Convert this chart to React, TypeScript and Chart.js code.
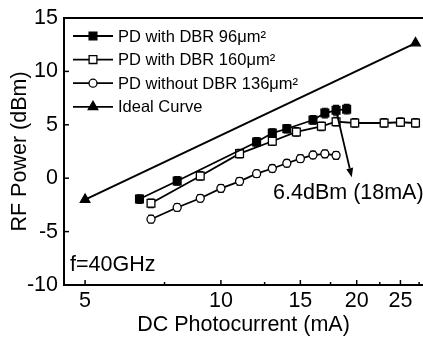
import React, { useEffect, useRef } from "react";
import { Chart, registerables } from "chart.js";

Chart.register(...registerables);

const FONT = "'Liberation Sans', Arial, Helvetica, sans-serif";

// ---- data ----
const dbr96Current = [6.6, 8, 12, 13, 14, 16, 17, 18, 19];
const dbr96Power = [-1.95, -0.26, 3.39, 4.23, 4.63, 5.45, 6.1, 6.36, 6.46];
const dbr96Err = [0.4, 0.4, 0.4, 0.4, 0.4, 0.4, 0.45, 0.45, 0.45];

const dbr160Current = [7, 9, 11, 13, 14.7, 16.7, 18, 19.8, 23, 25, 27];
const dbr160Power = [-2.35, 0.21, 2.3, 3.46, 4.33, 4.86, 5.29, 5.17, 5.17, 5.24, 5.17];
const dbr160Err = [0.4, 0.4, 0.4, 0.4, 0.4, 0.4, 0.4, 0.4, 0.4, 0.4, 0.4];

const noDbrCurrent = [7, 8, 9, 10, 11, 12, 13, 14, 15, 16, 17, 18];
const noDbrPower = [-3.84, -2.74, -1.88, -0.95, -0.29, 0.42, 0.91, 1.4, 1.83, 2.17, 2.28, 2.14];
const noDbrErr = [0.35, 0.35, 0.35, 0.35, 0.35, 0.35, 0.35, 0.35, 0.35, 0.35, 0.35, 0.35];

const idealCurrent = [5, 27];
const idealPower = [-2, 12.65];

const seriesLabels = [
  "PD with DBR 96\u03bcm\u00b2",
  "PD with DBR 160\u03bcm\u00b2",
  "PD without DBR 136\u03bcm\u00b2",
  "Ideal Curve",
];

const xTickValues = [5, 7.5, 10, 12.5, 15, 17.5, 20, 22.5, 25, 27.5];
const xTickLabels = ["5", "", "10", "", "15", "", "20", "", "25", ""];
const yTickValues = [-10, -5, 0, 5, 10, 15];

const xMin = 4.49;
const xMax = 28.05;
const yMin = -10;
const yMax = 15;

// annotation (data units)
const annotationFrom = { x: 18, y: 6.36 };
const annotationTip = { x: 19.5, y: 0.1 };
const annotationText = "6.4dBm (18mA)";
const annotationTextPos = { x: 13.05, y: -1.4 };
const freqText = "f=40GHz";
const freqTextY = -8.1;

const toPoints = (xs: number[], ys: number[]) => xs.map((x, i) => ({ x, y: ys[i] }));

function drawMarker(ctx: CanvasRenderingContext2D, style: string, x: number, y: number, r: number, fill: string) {
  ctx.save();
  ctx.fillStyle = fill;
  ctx.strokeStyle = "#000";
  ctx.lineWidth = 1.3;
  ctx.beginPath();
  if (style === "rect") {
    const s = r * Math.SQRT1_2;
    ctx.rect(x - s, y - s, 2 * s, 2 * s);
  } else if (style === "circle") {
    ctx.arc(x, y, r, 0, Math.PI * 2);
  } else if (style === "triangle") {
    ctx.moveTo(x, y - r);
    ctx.lineTo(x + r * 0.866, y + r * 0.5);
    ctx.lineTo(x - r * 0.866, y + r * 0.5);
    ctx.closePath();
  }
  ctx.fill();
  ctx.stroke();
  ctx.restore();
}

const decorPlugin = {
  id: "decor",
  beforeDatasetsDraw(chart: any) {
    const ctx = chart.ctx;
    const xs = chart.scales.x;
    const ys = chart.scales.y;
    ctx.save();
    ctx.strokeStyle = "#000";
    ctx.lineWidth = 1.2;
    chart.data.datasets.forEach((ds: any) => {
      if (!ds.errors) return;
      ds.data.forEach((p: any, i: number) => {
        const e = ds.errors[i];
        const px = xs.getPixelForValue(p.x);
        const t = ys.getPixelForValue(p.y + e);
        const b = ys.getPixelForValue(p.y - e);
        ctx.beginPath();
        ctx.moveTo(px, t);
        ctx.lineTo(px, b);
        ctx.moveTo(px - 3, t);
        ctx.lineTo(px + 3, t);
        ctx.moveTo(px - 3, b);
        ctx.lineTo(px + 3, b);
        ctx.stroke();
      });
    });
    ctx.restore();
  },
  afterDraw(chart: any) {
    const ctx = chart.ctx;
    const xs = chart.scales.x;
    const ys = chart.scales.y;
    const area = chart.chartArea;
    ctx.save();
    ctx.strokeStyle = "#000";
    // top frame line
    ctx.lineWidth = 2;
    ctx.beginPath();
    ctx.moveTo(area.left - 1, area.top);
    ctx.lineTo(chart.width, area.top);
    ctx.stroke();
    // inward tick marks
    ctx.lineWidth = 1.5;
    xTickValues.forEach((v, i) => {
      const px = xs.getPixelForValue(v);
      const len = xTickLabels[i] ? 5 : 3;
      ctx.beginPath();
      ctx.moveTo(px, area.bottom);
      ctx.lineTo(px, area.bottom - len);
      ctx.stroke();
    });
    yTickValues.forEach((v) => {
      const py = ys.getPixelForValue(v);
      ctx.beginPath();
      ctx.moveTo(area.left, py);
      ctx.lineTo(area.left + 5, py);
      ctx.stroke();
    });

    // legend
    ctx.font = `16.5px ${FONT}`;
    ctx.fillStyle = "#000";
    ctx.textBaseline = "middle";
    ctx.textAlign = "left";
    chart.data.datasets.forEach((ds: any, i: number) => {
      const y = area.top + 18 + i * 23.6;
      const x0 = area.left + 9;
      ctx.lineWidth = 1.8;
      ctx.beginPath();
      ctx.moveTo(x0, y);
      ctx.lineTo(x0 + 40, y);
      ctx.stroke();
      drawMarker(ctx, ds.pointStyle, x0 + 20, y, ds.pointRadius, ds.pointBackgroundColor);
      ctx.fillStyle = "#000";
      ctx.fillText(ds.label, x0 + 45, y + 1);
    });

    // annotation arrow
    const fx = xs.getPixelForValue(annotationFrom.x);
    const fy = ys.getPixelForValue(annotationFrom.y);
    const tx = xs.getPixelForValue(annotationTip.x);
    const ty = ys.getPixelForValue(annotationTip.y);
    const ang = Math.atan2(ty - fy, tx - fx);
    const headLen = 9;
    const headW = 3.5;
    const bx = tx - headLen * Math.cos(ang);
    const by = ty - headLen * Math.sin(ang);
    ctx.lineWidth = 1.8;
    ctx.beginPath();
    ctx.moveTo(fx, fy);
    ctx.lineTo(bx, by);
    ctx.stroke();
    ctx.beginPath();
    ctx.moveTo(tx, ty);
    ctx.lineTo(bx + headW * Math.sin(ang), by - headW * Math.cos(ang));
    ctx.lineTo(bx - headW * Math.sin(ang), by + headW * Math.cos(ang));
    ctx.closePath();
    ctx.fill();

    ctx.font = `21.5px ${FONT}`;
    ctx.textBaseline = "middle";
    ctx.textAlign = "left";
    ctx.fillText(
      annotationText,
      xs.getPixelForValue(annotationTextPos.x),
      ys.getPixelForValue(annotationTextPos.y)
    );
    ctx.fillText(freqText, area.left + 6, ys.getPixelForValue(freqTextY));
    ctx.restore();
  },
};

export default function App() {
  const canvasRef = useRef<HTMLCanvasElement | null>(null);

  useEffect(() => {
    const canvas = canvasRef.current;
    if (!canvas) return;
    const lineCommon = {
      borderColor: "#000",
      borderWidth: 1.8,
      showLine: true,
      pointBorderColor: "#000",
      pointBorderWidth: 1.3,
      tension: 0,
    };
    const chart = new Chart(canvas, {
      type: "scatter",
      data: {
        datasets: [
          {
            ...lineCommon,
            label: seriesLabels[0],
            data: toPoints(dbr96Current, dbr96Power),
            errors: dbr96Err,
            pointStyle: "rect",
            pointRadius: 5.5,
            pointBackgroundColor: "#000",
          } as any,
          {
            ...lineCommon,
            label: seriesLabels[1],
            data: toPoints(dbr160Current, dbr160Power),
            errors: dbr160Err,
            pointStyle: "rect",
            pointRadius: 5.5,
            pointBackgroundColor: "#fff",
          } as any,
          {
            ...lineCommon,
            label: seriesLabels[2],
            data: toPoints(noDbrCurrent, noDbrPower),
            errors: noDbrErr,
            pointStyle: "circle",
            pointRadius: 4,
            pointBackgroundColor: "#fff",
          } as any,
          {
            ...lineCommon,
            borderWidth: 2,
            label: seriesLabels[3],
            data: toPoints(idealCurrent, idealPower),
            pointStyle: "triangle",
            pointRadius: 5.5,
            pointBackgroundColor: "#000",
          } as any,
        ],
      },
      options: {
        responsive: false,
        devicePixelRatio: 1,
        animation: false,
        layout: { autoPadding: false, padding: { top: 18, right: 0, left: 0, bottom: 0 } },
        plugins: {
          legend: { display: false },
          tooltip: { enabled: false },
        },
        scales: {
          x: {
            type: "logarithmic",
            min: xMin,
            max: xMax,
            afterBuildTicks: (scale: any) => {
              scale.ticks = xTickValues.map((v) => ({ value: v }));
            },
            afterFit: (scale: any) => {
              scale.height = 53;
              scale.paddingRight = 0;
              scale.paddingLeft = 0;
            },
            ticks: {
              autoSkip: false,
              maxRotation: 0,
              padding: 3,
              color: "#000",
              font: { family: FONT, size: 21.5 },
              callback: (value: any) => {
                const i = xTickValues.indexOf(Number(value));
                return i >= 0 ? xTickLabels[i] : "";
              },
            },
            grid: { display: false, drawTicks: false },
            border: { display: true, color: "#000", width: 2 },
            title: {
              display: true,
              text: "DC Photocurrent (mA)",
              color: "#000",
              font: { family: FONT, size: 21.5 },
              padding: { top: 0, bottom: 0 },
            },
          },
          y: {
            type: "linear",
            min: yMin,
            max: yMax,
            afterBuildTicks: (scale: any) => {
              scale.ticks = yTickValues.map((v) => ({ value: v }));
            },
            afterFit: (scale: any) => {
              scale.width = 64;
              scale.paddingTop = 0;
              scale.paddingBottom = 0;
            },
            ticks: {
              padding: 6,
              color: "#000",
              font: { family: FONT, size: 21.5 },
            },
            grid: { display: false, drawTicks: false },
            border: { display: true, color: "#000", width: 2 },
            title: {
              display: true,
              text: "RF Power (dBm)",
              color: "#000",
              font: { family: FONT, size: 21.5 },
              padding: { top: 7, bottom: 0 },
            },
          },
        },
      } as any,
      plugins: [decorPlugin],
    });
    return () => chart.destroy();
  }, []);

  return (
    <div style={{ position: "fixed", left: 0, top: 0, width: 423, height: 338, background: "#fff" }}>
      <canvas ref={canvasRef} width={423} height={338} />
    </div>
  );
}
